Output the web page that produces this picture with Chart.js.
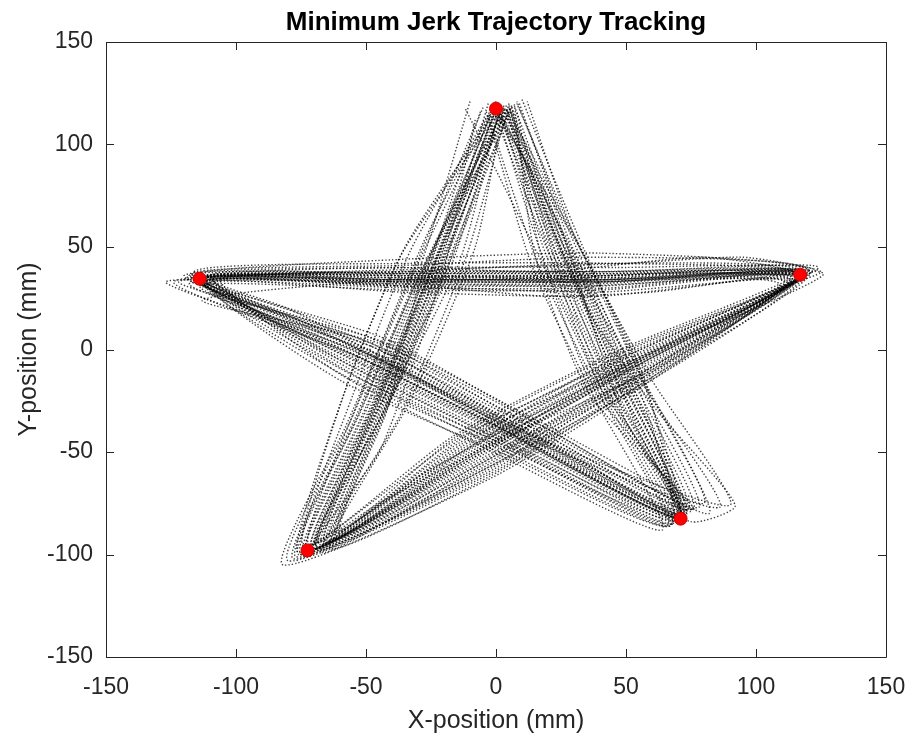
<!DOCTYPE html>
<html>
<head>
<meta charset="utf-8">
<script src="https://cdn.jsdelivr.net/npm/chart.js@4/dist/chart.umd.min.js"></script>
<style>
html,body{margin:0;padding:0;background:#fff;}
#wrap{width:912px;height:738px;}
</style>
</head>
<body>
<div id="wrap"><canvas id="c" width="912" height="738"></canvas></div>
<script>
// Target points (red markers)
const targetX = [0, -114, 117, -72.5, 71];
const targetY = [117.5, 34.5, 36.5, -98, -82.5];

// Tick labels
const tickValues = [-150, -100, -50, 0, 50, 100, 150];

// Tracked trajectories, one array per trial ([x, y] in mm)
const trial01 = [[0,118],[-20,50],[-44,-22],[-68,-95],[-10.2,-51.4],[53.4,-7.2],[118,37],[42,34],[-34,34],[-115,34],[-50,-3],[12,-42],[72,-80],[48,-14],[24,52],[3,117]];
const trial02 = [[2,115],[-26,44],[-50,-28],[-74,-99],[-6.7,-56.3],[55.7,-10.5],[115,35],[38,36],[-38,36],[-112,35],[-54,-6],[8,-45],[70,-83],[44,-18],[20,48],[-1,116]];
const trial03 = [[-3,120],[-18,55],[-40,-18],[-65,-93],[-12.5,-48.1],[51.7,-4.7],[120,38],[44,33],[-32,33],[-118,32],[-48,-1],[14,-40],[74,-78],[50,-12],[26,55],[5,119]];
const trial04 = [[4,113],[-28,40],[-53,-32],[-77,-101],[-4.4,-59.6],[56.9,-12.1],[113,34],[36,37],[-40,37],[-110,36],[-56,-8],[6,-47],[68,-85],[42,-20],[18,45],[1,113]];
const trial05 = [[1,117],[-15,58],[-38,-15],[-62,-90],[-14.8,-44.8],[49.9,-2.3],[122,39],[46,40],[-30,40],[-120,36],[-46,2],[16,-38],[78,-77],[52,-10],[28,58],[8,121]];
const trial06 = [[-2,116],[-30,42],[-56,-35],[-80,-103],[-3.2,-61.2],[58.6,-14.6],[111,33],[34,31],[-42,31],[-108,33],[-58,-10],[4,-50],[66,-86],[40,-22],[16,42],[-3,114]];
const trial07 = [[6,119],[-12,60],[-36,-12],[-60,-88],[-16,-43.2],[48.8,-0.6],[124,40],[48,38],[-28,38],[-122,33],[-44,4],[18,-36],[80,-75],[54,-8],[30,60],[10,122]];
const trial08 = [[0,121],[-24,46],[-46,-24],[-70,-97],[-9,-53],[54,-8],[117,36],[40,29],[-36,29],[-114,31],[-51,-5],[10,-44],[71,-82],[46,-16],[22,50],[0,118]];
const trial09 = [[3,114],[-20,52],[-43,-20],[-66,-94],[-11.3,-49.7],[52.8,-6.4],[119,37],[42,42],[-34,42],[-116,38],[-49,0],[13,-41],[73,-79],[49,-13],[25,54],[6,118]];
const trial10 = [[-5,118],[-32,38],[-58,-38],[-82,-105],[-2,-62.8],[59.2,-15.4],[109,32],[32,33],[-44,33],[-106,34],[-60,-12],[2,-52],[64,-88],[38,-24],[14,40],[-4,117]];
const trial11 = [[2,117],[-16,56],[-39,-17],[-63,-92],[-13.6,-46.4],[51.1,-3.9],[121,38],[45,36],[-31,36],[-119,35],[-47,1],[15,-39],[76,-78],[51,-11],[27,57],[9,120]];
const trial12 = [[1,112],[-27,43],[-52,-30],[-76,-100],[-5.5,-57.9],[56.3,-11.3],[114,35],[37,32],[-39,32],[-111,33],[-55,-7],[7,-46],[69,-84],[43,-19],[19,47],[2,115]];
const trial13 = [[-1,119],[-22,49],[-45,-23],[-69,-96],[-9.6,-52.2],[52.3,-5.5],[118,36],[41,38],[-35,38],[-124,33],[-52,-4],[11,-43],[86,-77],[58,-20],[25,53],[4,117]];
const trial14 = [[5,116],[-14,57],[-37,-14],[-61,-89],[-14.2,-45.6],[52.3,-5.5],[126,37],[47,35],[-29,35],[-113,24],[-45,3],[17,-37],[82,-80],[56,-14],[29,59],[12,121]];
const trial15 = [[-10,121],[-29,41],[-54,-33],[-78,-102],[-4.9,-58.7],[57.5,-12.9],[112,33],[35,34],[-41,34],[-109,35],[-57,-9],[5,-48],[67,-86],[41,-21],[17,44],[-12,118]];
const trial16 = [[0,117],[-21,50],[-44,-21],[-67,-95],[-10.7,-50.5],[54,-8],[118,37],[43,30],[-33,30],[-127,33],[-50,-2],[12,-41],[90,-76],[60,-15],[30,56],[8,120]];
const trial17 = [[4,119],[-17,54],[-41,-19],[-64,-93],[-11.9,-48.9],[50.5,-3.1],[119,38],[43,37],[-33,37],[-117,36],[-49,-2],[13,-42],[73,-81],[50,-14],[26,54],[7,119]];
const trial18 = [[-2,114],[-25,45],[-49,-27],[-73,-98],[-7.3,-55.5],[55.2,-9.6],[116,35],[39,34],[-37,34],[-113,33],[-53,-5],[9,-44],[70,-82],[45,-17],[21,49],[1,115]];
const trial19 = [[3,118],[-19,53],[-42,-20],[-66,-94],[-10.2,-51.4],[52.8,-6.4],[119,37],[41,33],[-35,33],[-115,34],[-51,-3],[11,-42],[72,-81],[48,-15],[24,52],[5,118]];
const trial20 = [[2,118],[-10,70],[-25,20],[-50,-40],[-70,-97],[-30,-62],[20,-28],[70,5],[117,36],[80,45],[20,38],[-40,40],[-114,35],[-70,10],[-20,-20],[30,-52],[71,-82],[55,-40],[38,10],[20,70],[5,118]];
const trial21 = [[-8,112],[-14,80],[-30,30],[-42,-30],[-62,-92],[-40,-80],[-5,-55],[45,-20],[110,30],[125,38],[95,45],[50,42],[0,40],[-60,38],[-110,34],[-80,20],[-35,-10],[20,-50],[75,-84],[92,-76],[62,-30],[35,20],[15,80],[8,116]];
const trial22 = [[0,117],[-12,75],[-20,40],[-30,0],[-45,-50],[-70,-95],[-45,-75],[0,-45],[60,-10],[118,36],[60,28],[20,26],[-20,30],[-70,33],[-114,34],[-75,14],[-30,-15],[25,-55],[71,-82],[50,-35],[40,0],[30,40],[18,85],[4,117]];
const trial23 = [[1,116],[-14,43],[-42,-28],[-70,-97],[-3.8,-60.4],[58.1,-13.7],[118,38],[40,42],[-36,38],[-115,35],[-48,3],[11,-40],[73,-80],[40,-18],[20,49],[4,117]];
const trial24 = [[-4,113],[-33,48],[-55,-22],[-75,-100],[-13.1,-47.3],[49.4,-1.4],[114,34],[40,28],[-36,31],[-112,33],[-56,-12],[6,-48],[68,-85],[53,-12],[28,52],[2,114]];
const trial25 = [[5,120],[-11,47],[-36,-30],[-67,-99],[-6.1,-57.1],[57.5,-12.9],[120,39],[40,45],[-36,41],[-117,37],[-45,4],[14,-38],[75,-79],[38,-20],[17,48],[6,119]];
const trial26 = [[-1,115],[-35,50],[-58,-20],[-74,-96],[-15.4,-44],[50.5,-3.1],[115,36],[40,31],[-36,32],[-113,33],[-58,-13],[5,-49],[70,-83],[55,-10],[31,53],[3,116]];
const trial27 = [[2,118],[-18,38],[-44,-32],[-69,-98],[-4.9,-58.7],[59.2,-15.4],[119,37],[40,38],[-36,37],[-116,34],[-47,1],[13,-40],[72,-81],[42,-19],[22,47],[5,118]];
const trial28 = [[-2,117],[-28,52],[-51,-19],[-72,-95],[-11.9,-48.9],[52.3,-5.5],[116,36],[40,33],[-36,35],[-114,34],[-54,-9],[7,-47],[70,-82],[51,-13],[27,53],[1,116]];
const trial29 = [[3,119],[-8,50],[-33,-25],[-64,-97],[-2.6,-62],[58.6,-14.6],[121,38],[40,47],[-36,44],[-118,36],[-44,6],[16,-36],[76,-78],[36,-22],[15,46],[7,120]];
const trial30 = [[0,114],[-37,45],[-60,-27],[-76,-99],[-16.5,-42.3],[48.2,0.2],[113,35],[40,26],[-36,28],[-111,32],[-60,-15],[3,-51],[67,-86],[57,-14],[32,50],[0,115]];
const trial31 = [[1,117],[-22,47],[-46,-25],[-71,-97],[-9,-53],[53.4,-7.2],[117,36],[40,35],[-36,34],[-114,34],[-52,-4],[9,-43],[71,-82],[47,-16],[24,50],[2,117]];
const trial32 = [[-6,116],[-26,40],[-49,-30],[-73,-98],[-7.8,-54.6],[56.3,-11.3],[117,37],[40,36],[-36,33],[-114,35],[-50,-1],[10,-42],[71,-81],[44,-17],[22,51],[4,118]];
const trial33 = [[4,117],[-19,49],[-43,-23],[-69,-96],[-9.6,-52.2],[54.6,-8.8],[117,36],[40,34],[-36,36],[-114,34],[-53,-6],[8,-44],[71,-82],[49,-15],[25,50],[3,117]];
const trial34 = [[0,117],[-23,45],[-47,-26],[-71,-97],[-8.4,-53.8],[54,-8],[117,37],[40,36],[-36,35],[-114,34],[-52,-4],[9,-43],[71,-82],[47,-16],[23,51],[1,117]];

const trials = [trial01,trial02,trial03,trial04,trial05,trial06,trial07,trial08,trial09,trial10,
  trial11,trial12,trial13,trial14,trial15,trial16,trial17,trial18,trial19,trial20,
  trial21,trial22,trial23,trial24,trial25,trial26,trial27,trial28,trial29,trial30,
  trial31,trial32,trial33,trial34];

const FONT = "'Liberation Sans', Arial, Helvetica, sans-serif";
const AXIS_COLOR = '#262626';

const datasets = [{
  label: 'Targets',
  data: targetX.map((x, i) => ({x: x, y: targetY[i]})),
  showLine: false,
  pointRadius: 6.5,
  pointBackgroundColor: 'rgb(255,0,0)',
  pointBorderColor: 'rgb(210,0,0)',
  pointBorderWidth: 1
}];
trials.forEach((t, i) => {
  datasets.push({
    label: 'Trial ' + (i + 1),
    data: t.map(p => ({x: p[0], y: p[1]})),
    showLine: true,
    pointRadius: 0,
    borderColor: 'rgba(0,0,0,0.75)',
    borderWidth: 1.4,
    borderDash: [1.4, 2],
    tension: 0.2,
    fill: false
  });
});

const frameTicks = {
  id: 'frameTicks',
  afterDatasetsDraw(chart) {
    const {ctx, chartArea: a, scales} = chart;
    ctx.save();
    ctx.strokeStyle = AXIS_COLOR;
    ctx.lineWidth = 1;
    ctx.beginPath();
    ctx.rect(Math.round(a.left) + 0.5, Math.round(a.top) + 0.5, Math.round(a.right - a.left), Math.round(a.bottom - a.top));
    ctx.stroke();
    const len = 8;
    ctx.beginPath();
    scales.x.ticks.forEach(t => {
      const px = Math.round(scales.x.getPixelForValue(t.value)) + 0.5;
      ctx.moveTo(px, a.bottom); ctx.lineTo(px, a.bottom - len);
      ctx.moveTo(px, a.top); ctx.lineTo(px, a.top + len);
    });
    scales.y.ticks.forEach(t => {
      const py = Math.round(scales.y.getPixelForValue(t.value)) + 0.5;
      ctx.moveTo(a.left, py); ctx.lineTo(a.left + len, py);
      ctx.moveTo(a.right, py); ctx.lineTo(a.right - len, py);
    });
    ctx.stroke();
    ctx.restore();
  }
};

new Chart(document.getElementById('c'), {
  type: 'scatter',
  data: {datasets: datasets},
  options: {
    responsive: false,
    devicePixelRatio: 1,
    animation: false,
    events: [],
    layout: {padding: {left: 0, right: 26, top: 0, bottom: 0}},
    plugins: {
      legend: {display: false},
      tooltip: {enabled: false},
      title: {
        display: true,
        fullSize: false,
        text: 'Minimum Jerk Trajectory Tracking',
        color: '#000',
        font: {family: FONT, size: 26, weight: 'bold', lineHeight: 1.2},
        padding: {top: 7, bottom: 3.8}
      }
    },
    scales: {
      x: {
        type: 'linear',
        min: -150, max: 150,
        afterBuildTicks: s => { s.ticks = tickValues.map(v => ({value: v})); },
        afterFit: s => { s.height = 81; s.paddingLeft = 0; s.paddingRight = 0; },
        ticks: {color: AXIS_COLOR, font: {family: FONT, size: 23}, padding: 17, maxRotation: 0},
        grid: {display: false, drawTicks: false},
        border: {display: false},
        title: {display: true, text: 'X-position (mm)', color: AXIS_COLOR, font: {family: FONT, size: 25}, padding: {top: 0, bottom: 2}}
      },
      y: {
        type: 'linear',
        min: -150, max: 150,
        afterBuildTicks: s => { s.ticks = tickValues.map(v => ({value: v})); },
        afterFit: s => { s.width = 106; s.paddingTop = 0; s.paddingBottom = 0; },
        ticks: {color: AXIS_COLOR, font: {family: FONT, size: 23}, padding: 13},
        grid: {display: false, drawTicks: false},
        border: {display: false},
        title: {display: true, text: 'Y-position (mm)', color: AXIS_COLOR, font: {family: FONT, size: 25}, padding: {top: 14, bottom: 0}}
      }
    }
  },
  plugins: [frameTicks]
});
</script>
</body>
</html>
